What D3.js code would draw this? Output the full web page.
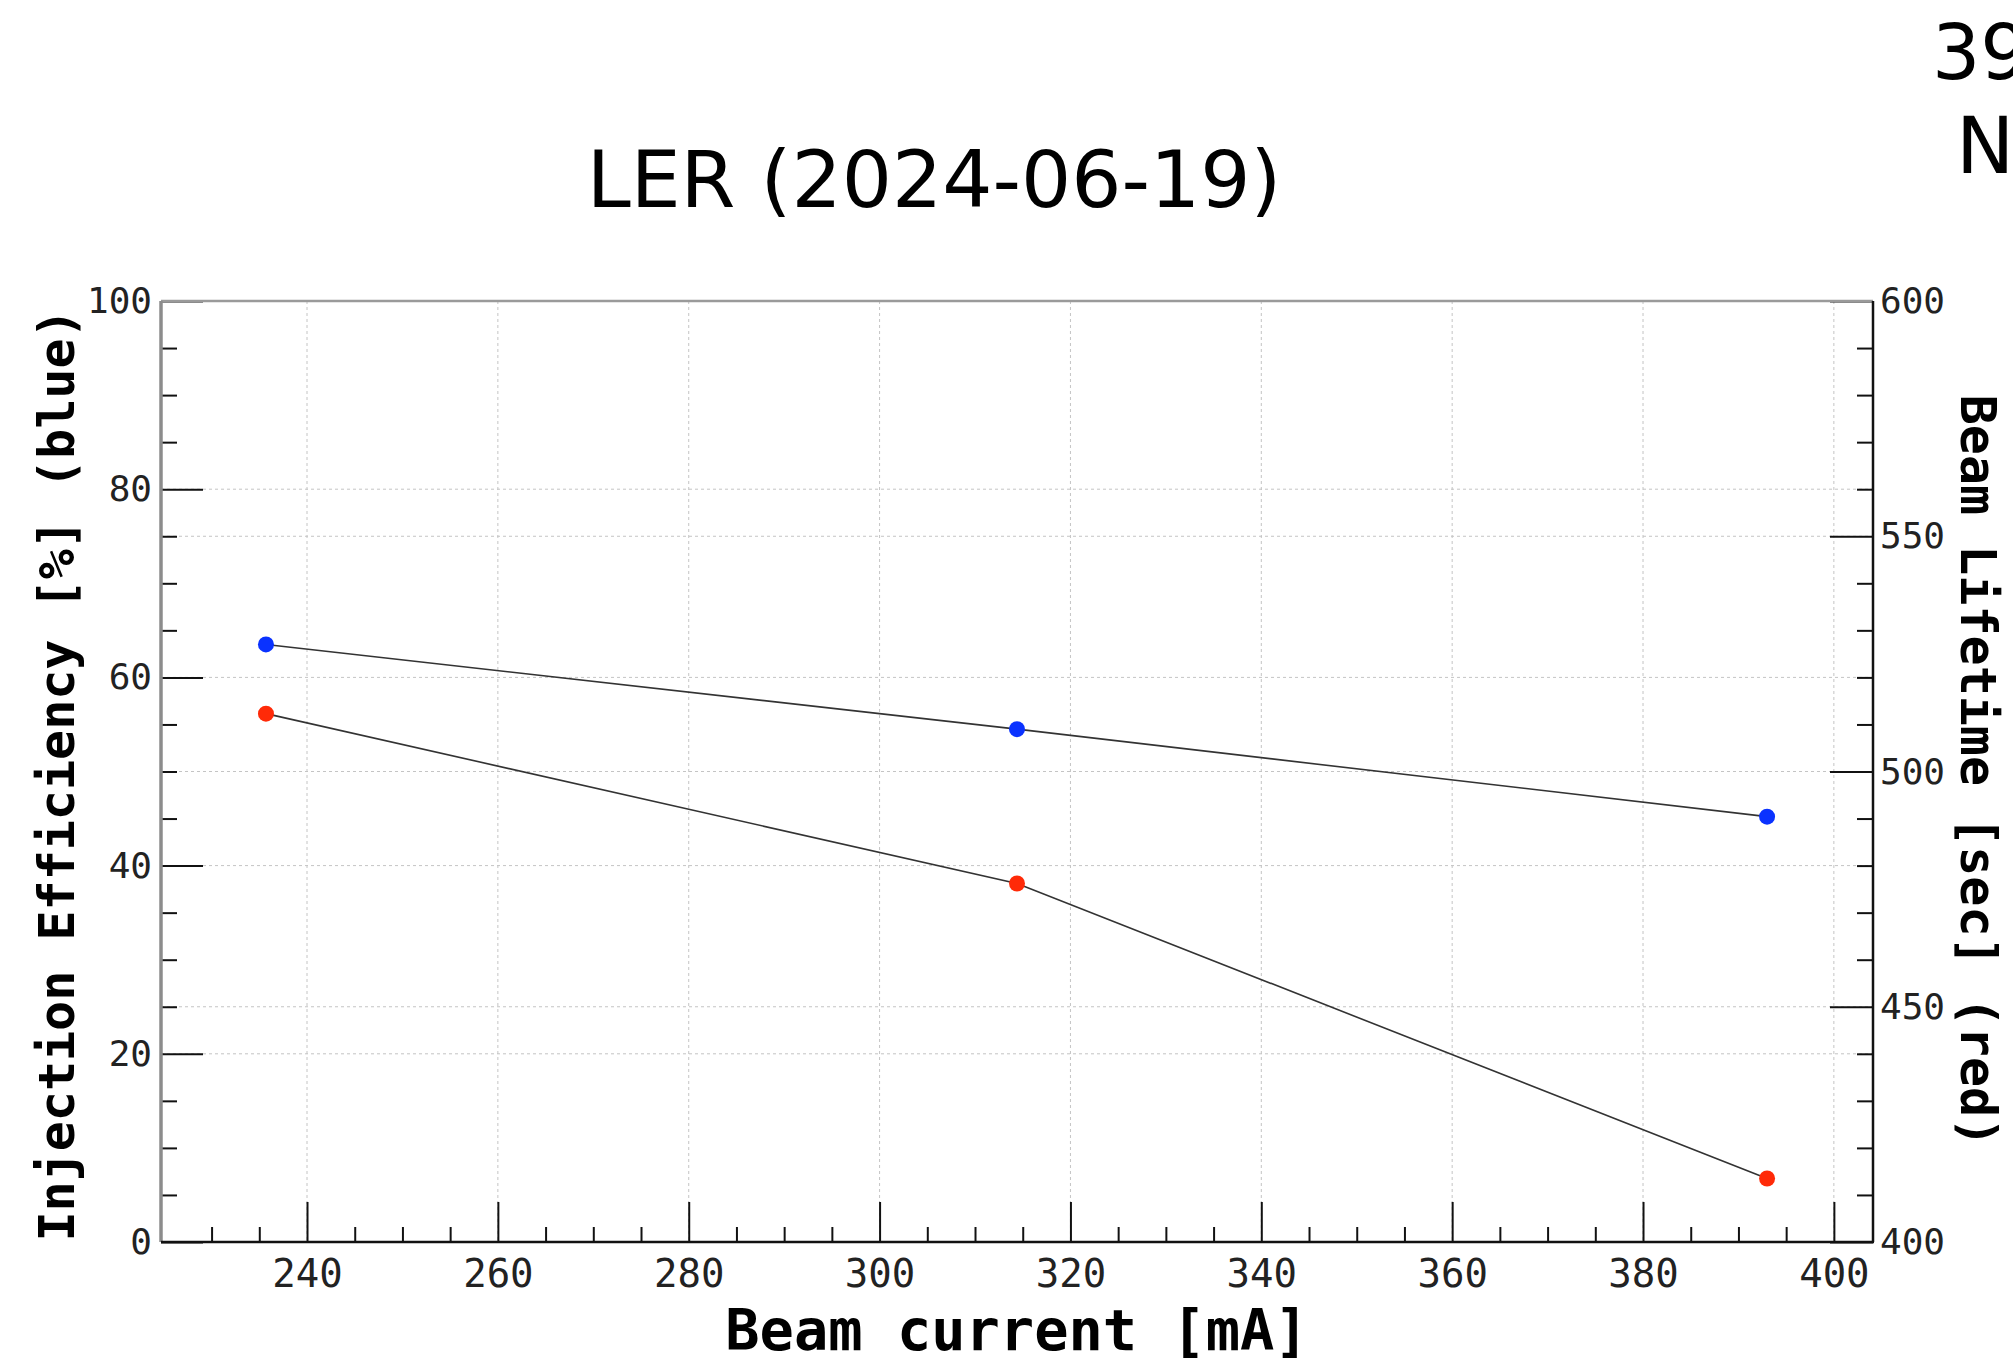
<!DOCTYPE html>
<html><head><meta charset="utf-8">
<script src="https://cdn.jsdelivr.net/npm/d3@7"></script>
<style>body{margin:0;background:#fff;overflow:hidden} svg{display:block}</style>
</head><body><svg id="c" width="2013" height="1363"></svg>
<script>
// ---- data ----
const beamCurrent = [235.7, 314.4, 393.0];          // mA
const injectionEfficiency = [63.5, 54.5, 45.2];     // % (blue, left axis)
const beamLifetime = [512.3, 476.2, 413.5];         // sec (red, right axis)
const xTicks = [240, 260, 280, 300, 320, 340, 360, 380, 400];
const xMinorTicks = [230, 235, 245, 250, 255, 265, 270, 275, 285, 290, 295, 305, 310, 315, 325, 330, 335, 345, 350, 355, 365, 370, 375, 385, 390, 395];
const leftTicks = [0, 20, 40, 60, 80, 100];
const leftMinorTicks = [5, 10, 15, 25, 30, 35, 45, 50, 55, 65, 70, 75, 85, 90, 95];
const rightTicks = [400, 450, 500, 550, 600];
const rightMinorTicks = [410, 420, 430, 440, 460, 470, 480, 490, 510, 520, 530, 540, 560, 570, 580, 590];
const titleText = "LER (2024-06-19)";
const cornerLines = ["39", "N"];
const xLabel = "Beam current [mA]";
const leftLabel = "Injection Efficiency [%] (blue)";
const rightLabel = "Beam Lifetime [sec] (red)";

// ---- layout ----
const L = 161, R = 1873, T = 301, B = 1242;
const svg = d3.select("#c");
const x = d3.scaleLinear().domain([224.7, 404.1]).range([L, R]);
const yL = d3.scaleLinear().domain([0, 100]).range([B, T]);
const yR = d3.scaleLinear().domain([400, 600]).range([B, T]);
const mono = "'DejaVu Sans Mono', monospace";
const sans = "'DejaVu Sans', Verdana, sans-serif";

// grid
const grid = svg.append("g").attr("stroke", "#c4c4c4").attr("stroke-width", 1).attr("stroke-dasharray", "3,3");
grid.selectAll("line.gx").data(xTicks).join("line").attr("class", "gx")
  .attr("x1", d => x(d)).attr("x2", d => x(d)).attr("y1", T).attr("y2", B);
grid.selectAll("line.gl").data(leftTicks.filter(d => d > 0 && d < 100)).join("line").attr("class", "gl")
  .attr("x1", L).attr("x2", R).attr("y1", d => yL(d)).attr("y2", d => yL(d));
grid.selectAll("line.gr").data(rightTicks.filter(d => d > 400 && d < 600)).join("line").attr("class", "gr")
  .attr("x1", L).attr("x2", R).attr("y1", d => yR(d)).attr("y2", d => yR(d));

function styleAxis(g, size) {
  g.select(".domain").remove();
  g.selectAll(".tick line").attr("stroke", "#111").attr("stroke-width", 2);
  g.selectAll(".tick text").attr("fill", "#222").attr("font-family", mono).attr("font-size", size);
}

// bottom axis
const gx = svg.append("g").attr("transform", `translate(0,${B})`)
  .call(d3.axisBottom(x).tickValues(xTicks).tickSize(-40).tickPadding(17).tickFormat(d3.format("d")));
styleAxis(gx, 39);
gx.selectAll(".tick text").attr("y", 45).attr("dy", 0);
const gxm = svg.append("g").attr("transform", `translate(0,${B})`)
  .call(d3.axisBottom(x).tickValues(xMinorTicks).tickSize(-15).tickFormat(""));
styleAxis(gxm, 10);

// left axis
const gl = svg.append("g").attr("transform", `translate(${L},0)`)
  .call(d3.axisLeft(yL).tickValues(leftTicks).tickSize(-42).tickPadding(9).tickFormat(d3.format("d")));
styleAxis(gl, 36);
const glm = svg.append("g").attr("transform", `translate(${L},0)`)
  .call(d3.axisLeft(yL).tickValues(leftMinorTicks).tickSize(-16).tickFormat(""));
styleAxis(glm, 10);

// right axis
const gr = svg.append("g").attr("transform", `translate(${R},0)`)
  .call(d3.axisRight(yR).tickValues(rightTicks).tickSize(-43).tickPadding(7).tickFormat(d3.format("d")));
styleAxis(gr, 36);
const grm = svg.append("g").attr("transform", `translate(${R},0)`)
  .call(d3.axisRight(yR).tickValues(rightMinorTicks).tickSize(-16).tickFormat(""));
styleAxis(grm, 10);

// frame
svg.append("line").attr("x1", L).attr("x2", R).attr("y1", T).attr("y2", T).attr("stroke", "#9a9a9a").attr("stroke-width", 2.5);
svg.append("line").attr("x1", L).attr("x2", L).attr("y1", T).attr("y2", B).attr("stroke", "#8c8c8c").attr("stroke-width", 3.5);
svg.append("line").attr("x1", L).attr("x2", R + 1).attr("y1", B).attr("y2", B).attr("stroke", "#111").attr("stroke-width", 2.5);
svg.append("line").attr("x1", R).attr("x2", R).attr("y1", T).attr("y2", B).attr("stroke", "#111").attr("stroke-width", 2.5);

// series lines
const idx = d3.range(beamCurrent.length);
const lineL = d3.line().x(i => x(beamCurrent[i])).y(i => yL(injectionEfficiency[i]));
const lineR = d3.line().x(i => x(beamCurrent[i])).y(i => yR(beamLifetime[i]));
svg.append("path").attr("d", lineL(idx)).attr("fill", "none").attr("stroke", "#333").attr("stroke-width", 1.6);
svg.append("path").attr("d", lineR(idx)).attr("fill", "none").attr("stroke", "#333").attr("stroke-width", 1.6);

// markers
svg.selectAll("circle.b").data(idx).join("circle").attr("class", "b")
  .attr("cx", i => x(beamCurrent[i])).attr("cy", i => yL(injectionEfficiency[i])).attr("r", 8).attr("fill", "#0a32ff");
svg.selectAll("circle.r").data(idx).join("circle").attr("class", "r")
  .attr("cx", i => x(beamCurrent[i])).attr("cy", i => yR(beamLifetime[i])).attr("r", 8).attr("fill", "#ff2a08");

// titles
svg.append("text").attr("x", 934).attr("y", 207).attr("text-anchor", "middle")
  .attr("font-family", sans).attr("font-size", 79).attr("fill", "#000").text(titleText);
svg.append("text").attr("x", 1932).attr("y", 79).attr("font-family", sans).attr("font-size", 76).attr("fill", "#000").text(cornerLines[0]);
svg.append("text").attr("x", 1956).attr("y", 173).attr("font-family", sans).attr("font-size", 78).attr("fill", "#000").text(cornerLines[1]);

svg.append("text").attr("x", (L + R) / 2).attr("y", 1350).attr("text-anchor", "middle")
  .attr("font-family", mono).attr("font-weight", "bold").attr("font-size", 57).attr("fill", "#000").text(xLabel);
svg.append("text").attr("transform", `translate(74,775) rotate(-90)`).attr("text-anchor", "middle")
  .attr("font-family", mono).attr("font-weight", "bold").attr("font-size", 50).attr("fill", "#000").text(leftLabel);
svg.append("text").attr("transform", `translate(1961,771) rotate(90)`).attr("text-anchor", "middle")
  .attr("font-family", mono).attr("font-weight", "bold").attr("font-size", 50).attr("fill", "#000").text(rightLabel);
</script>
</body></html>
